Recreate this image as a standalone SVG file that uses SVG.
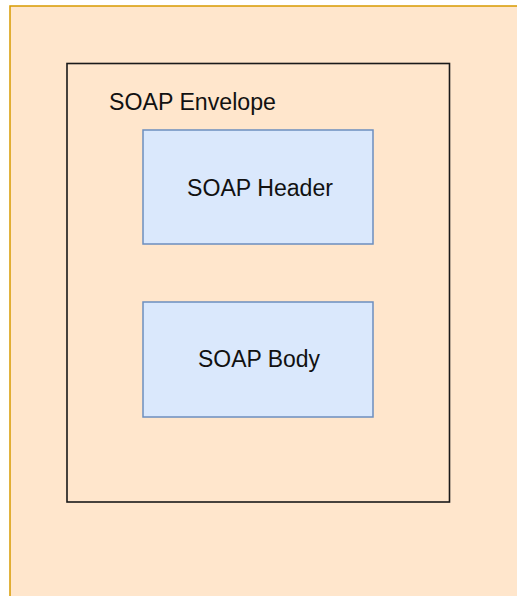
<svg xmlns="http://www.w3.org/2000/svg" width="517" height="596" viewBox="0 0 517 596">
<style>
.box{fill:#dae8fc;stroke:#6c8ebf;stroke-width:1.5}
.lbl{font-family:"Liberation Sans",Arial,sans-serif;font-size:23px;fill:#111111}
</style>
<rect width="517" height="596" fill="#ffffff"/>
<g id="background">
<rect x="10" y="6" width="530" height="610" fill="#ffe6cc" stroke="#d79b00" stroke-width="1.5"/>
</g>
<g id="envelope">
<rect x="67" y="63.5" width="382.5" height="438.5" fill="none" stroke="#1a1a1a" stroke-width="1.6"/>
<text class="lbl" x="109" y="110" textLength="167" lengthAdjust="spacingAndGlyphs">SOAP Envelope</text>
</g>
<g id="header">
<rect class="box" x="143" y="130" width="230" height="114"/>
<text class="lbl" x="187" y="196" textLength="146" lengthAdjust="spacingAndGlyphs">SOAP Header</text>
</g>
<g id="body">
<rect class="box" x="143" y="302" width="230" height="115"/>
<text class="lbl" x="198" y="367" textLength="122" lengthAdjust="spacingAndGlyphs">SOAP Body</text>
</g>
<g id="connectors"></g>
</svg>
